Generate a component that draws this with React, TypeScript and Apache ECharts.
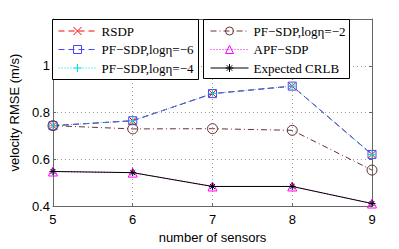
import React, { useEffect, useRef } from "react";
import * as echarts from "echarts";

const sensors = [5, 6, 7, 8, 9];
const rsdp = [0.744, 0.765, 0.881, 0.913, 0.621];
const pfSdp6 = [0.744, 0.765, 0.881, 0.913, 0.621];
const pfSdp4 = [0.744, 0.765, 0.881, 0.913, 0.621];
const pfSdp2 = [0.744, 0.73, 0.731, 0.724, 0.554];
const apfSdp = [0.548, 0.543, 0.484, 0.484, 0.411];
const crlb = [0.548, 0.543, 0.484, 0.484, 0.411];

const seriesNames = [
  "RSDP",
  "PF\u2212SDP,log\u03b7=\u22126",
  "PF\u2212SDP,log\u03b7=\u22124",
  "PF\u2212SDP,log\u03b7=\u22122",
  "APF\u2212SDP",
  "Expected CRLB",
];

const yTicks = [0.4, 0.6, 0.8, 1.0, 1.2];

const SYM_X = "path://M0,0L10,10M10,0L0,10";
const SYM_SQ = "path://M0,0L10,0L10,10L0,10Z";
const SYM_PLUS = "path://M5,0L5,10M0,5L10,5";
const SYM_CIRC = "path://M10,5A5,5,0,1,1,0,5A5,5,0,1,1,10,5Z";
const SYM_TRI = "path://M5,0L10,9L0,9Z";
const SYM_STAR = "path://M5,0L5,10M0,5L10,5M1.5,1.5L8.5,8.5M8.5,1.5L1.5,8.5";

type Spec = { color: string; dash: any; symbol: string; size: number };
const specs: Spec[] = [
  { color: "#ff0000", dash: [6, 4], symbol: SYM_X, size: 7 },
  { color: "#4545ff", dash: [6, 4], symbol: SYM_SQ, size: 8 },
  { color: "#00e0e0", dash: [1, 2], symbol: SYM_PLUS, size: 8 },
  { color: "#663333", dash: [6, 3, 1, 3], symbol: SYM_CIRC, size: 10 },
  { color: "#ff00ff", dash: [1, 2], symbol: SYM_TRI, size: 9 },
  { color: "#000000", dash: "solid", symbol: SYM_STAR, size: 7 },
];

const values = [rsdp, pfSdp6, pfSdp4, pfSdp2, apfSdp, crlb];

export default function App() {
  const ref = useRef<HTMLDivElement>(null);
  useEffect(() => {
    if (!ref.current) return;
    const chart = echarts.init(ref.current, null, { renderer: "svg" });
    const axisColor = "#666";
    const legendItem = (i: number) => ({
      name: seriesNames[i],
      itemStyle: { color: "none", borderColor: specs[i].color, borderWidth: 1 },
      lineStyle: { color: specs[i].color, type: specs[i].dash, width: 1 },
    });
    const legendCommon = {
      orient: "vertical",
      top: 24.5,
      itemWidth: 38,
      itemHeight: 10,
      itemGap: 5.5,
      padding: 0,
      z: 10,
      selectedMode: false,
      textStyle: { fontFamily: "Liberation Serif", fontSize: 13, color: "#000" },
    };
    const xBase = {
      type: "value",
      min: 5,
      max: 9,
      interval: 1,
      axisLine: { show: true, lineStyle: { color: axisColor, width: 1 } },
      axisTick: { show: true, inside: true, length: 3, lineStyle: { color: axisColor } },
    };
    const yBase = {
      type: "value",
      min: 0.4,
      max: 1.2,
      interval: 0.2,
      axisLine: { show: true, lineStyle: { color: axisColor, width: 1 } },
      axisTick: { show: true, inside: true, length: 3, lineStyle: { color: axisColor } },
    };
    chart.setOption({
      animation: false,
      grid: { left: 52, right: 27, top: 19, bottom: 40, containLabel: false },
      xAxis: [
        {
          ...xBase,
          position: "bottom",
          name: "number of sensors",
          nameLocation: "middle",
          nameGap: 20,
          nameTextStyle: { fontFamily: "Liberation Sans", fontSize: 13, color: "#000" },
          axisLabel: { margin: 7, fontFamily: "Liberation Sans", fontSize: 13, color: "#000" },
          splitLine: { show: true, lineStyle: { color: "#999", type: [1, 3], width: 1 } },
        },
        { ...xBase, position: "top", axisLabel: { show: false }, splitLine: { show: false } },
      ],
      yAxis: [
        {
          ...yBase,
          position: "left",
          name: "velocity RMSE (m/s)",
          nameLocation: "middle",
          nameGap: 17,
          nameTextStyle: { fontFamily: "Liberation Sans", fontSize: 13, color: "#000" },
          axisLabel: {
            margin: 3,
            fontFamily: "Liberation Sans",
            fontSize: 13,
            color: "#000",
            formatter: (v: number) => {
              if (Math.abs(v - yTicks[4]) < 1e-6) return "";
              if (Math.abs(v - 1) < 1e-6) return "1";
              return v.toFixed(1);
            },
          },
          splitLine: { show: true, lineStyle: { color: "#999", type: [1, 3], width: 1 } },
        },
        { ...yBase, position: "right", axisLabel: { show: false }, splitLine: { show: false } },
      ],
      legend: [
        { ...legendCommon, left: 58, data: [0, 1, 2].map(legendItem) },
        { ...legendCommon, left: 210, data: [3, 4, 5].map(legendItem) },
      ],
      graphic: [
        {
          type: "rect",
          z: 5,
          shape: { x: 52.5, y: 19.5, width: 146, height: 60 },
          style: { fill: "#fff", stroke: "#000", lineWidth: 1 },
        },
        {
          type: "rect",
          z: 5,
          shape: { x: 203.5, y: 19.5, width: 146, height: 59 },
          style: { fill: "#fff", stroke: "#000", lineWidth: 1 },
        },
      ],
      series: values.map((vals, i) => ({
        name: seriesNames[i],
        type: "line",
        xAxisIndex: 0,
        yAxisIndex: 0,
        data: sensors.map((s, k) => [s, vals[k]]),
        symbol: specs[i].symbol,
        symbolSize: specs[i].size,
        showAllSymbol: true,
        lineStyle: { color: specs[i].color, type: specs[i].dash, width: 1 },
        itemStyle: { color: "none", borderColor: specs[i].color, borderWidth: 1 },
        emphasis: { disabled: true },
        z: 3,
      })),
    });
    return () => chart.dispose();
  }, []);
  return (
    <div
      ref={ref}
      style={{ position: "fixed", left: 0, top: 0, width: 399, height: 249, background: "#fff" }}
    />
  );
}
